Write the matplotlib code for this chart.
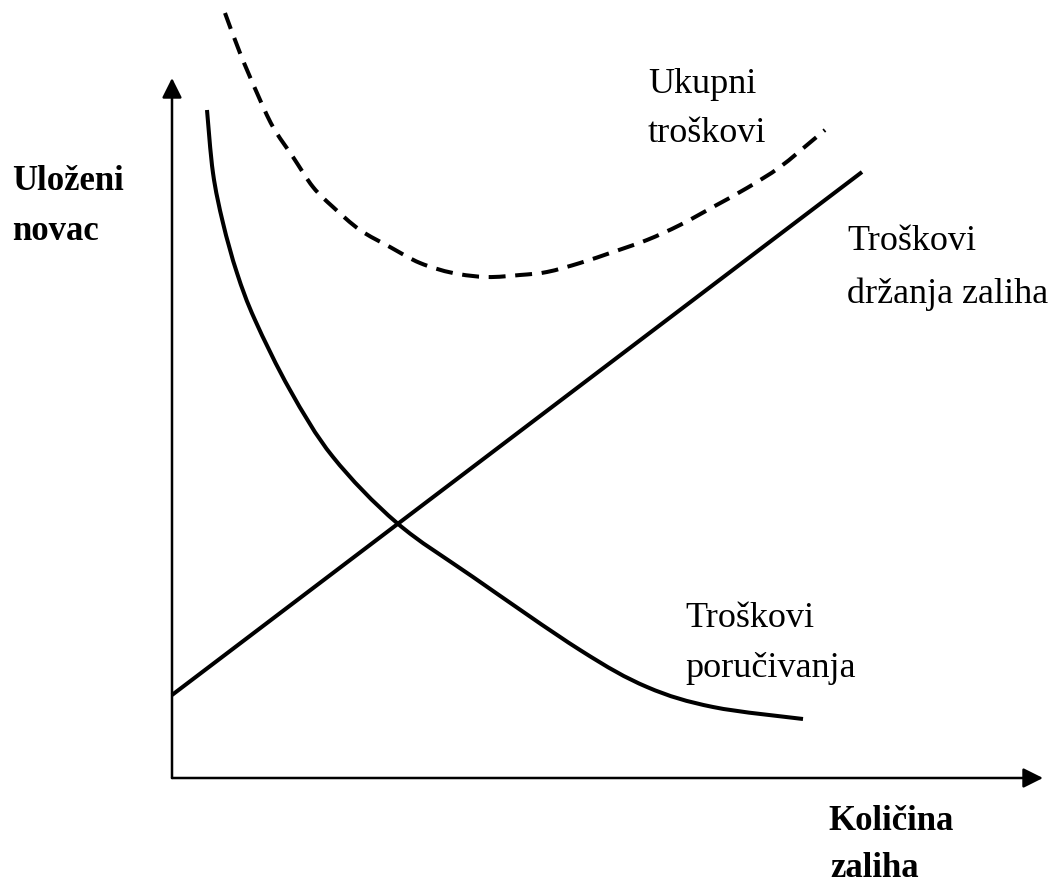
import matplotlib
matplotlib.use("Agg")
import matplotlib.pyplot as plt
from matplotlib.path import Path
from matplotlib.patches import PathPatch

# Quantity of stock (x) and money invested (y), arbitrary units
holding_x = [0.0, 6.90]
holding_y = [0.83, 6.06]

ordering_x = [0.35, 0.41, 0.51, 0.65, 0.83, 1.18, 1.61, 2.25, 3.01, 4.08, 4.75, 5.41, 6.31]
ordering_y = [6.68, 6.05, 5.55, 5.05, 4.58, 3.88, 3.21, 2.55, 2.01, 1.28, 0.91, 0.71, 0.59]

total_x = [0.53, 0.68, 0.85, 1.01, 1.21, 1.41, 1.61, 1.88, 2.18, 2.48, 2.81, 3.15, 3.48,
           3.75, 4.08, 4.41, 4.75, 5.08, 5.41, 5.75, 6.08, 6.41, 6.53]
total_y = [7.65, 7.25, 6.85, 6.51, 6.21, 5.91, 5.71, 5.48, 5.31, 5.15, 5.05, 5.01, 5.03,
           5.06, 5.15, 5.26, 5.38, 5.53, 5.71, 5.90, 6.11, 6.38, 6.48]

x_max, y_max = 8.68, 6.98

W, H = 1051, 885
fig = plt.figure(figsize=(W / 100, H / 100), dpi=100)
fig.patch.set_facecolor("white")
ax = fig.add_axes([172 / W, (H - 778) / H, (1040 - 172) / W, (778 - 80) / H])
ax.set_xlim(0, x_max)
ax.set_ylim(0, y_max)
ax.axis("off")


def smooth_path(xs, ys):
    """Cubic Bezier path passing through every point (Catmull-Rom tangents)."""
    pts = list(zip(xs, ys))
    verts = [pts[0]]
    codes = [Path.MOVETO]
    n = len(pts)
    for i in range(n - 1):
        p0 = pts[i - 1] if i > 0 else pts[i]
        p1 = pts[i]
        p2 = pts[i + 1]
        p3 = pts[i + 2] if i + 2 < n else pts[i + 1]
        c1 = (p1[0] + (p2[0] - p0[0]) / 6, p1[1] + (p2[1] - p0[1]) / 6)
        c2 = (p2[0] - (p3[0] - p1[0]) / 6, p2[1] - (p3[1] - p1[1]) / 6)
        verts += [c1, c2, p2]
        codes += [Path.CURVE4] * 3
    return Path(verts, codes)


# Axes with arrow heads
arrow = dict(arrowstyle="-|>", lw=1.8, color="black", mutation_scale=30,
             shrinkA=0, shrinkB=0)
ax.annotate("", xy=(x_max + 0.03, 0), xytext=(0, 0), arrowprops=arrow, annotation_clip=False)
ax.annotate("", xy=(0, y_max + 0.02), xytext=(0, 0), arrowprops=arrow, annotation_clip=False)

lw = 2.9
ax.plot(holding_x, holding_y, color="black", lw=lw, solid_capstyle="butt", clip_on=False)
ax.add_patch(PathPatch(smooth_path(ordering_x, ordering_y), facecolor="none",
                       edgecolor="black", lw=lw, capstyle="butt", clip_on=False))
ax.add_patch(PathPatch(smooth_path(total_x, total_y), facecolor="none",
                       edgecolor="black", lw=lw, linestyle=(0, (4.2, 2.4)),
                       capstyle="butt", clip_on=False))

serif = ["Liberation Serif", "DejaVu Serif"]


def label(x_px, y_px, text, bold=False, size=26):
    fig.text(x_px / W, 1 - y_px / H, text, family=serif, fontsize=size,
             fontweight="bold" if bold else "normal", ha="left", va="baseline",
             color="black")


label(12, 190, "Uloženi", bold=True, size=25)
label(12, 240, "novac", bold=True, size=25)

label(648, 93, "Ukupni")
label(648, 142, "troškovi")

label(847, 250, "Troškovi")
label(847, 303, "držanja zaliha")

label(685, 627, "Troškovi")
label(685, 677, "poručivanja")

label(828, 830, "Količina", bold=True, size=25)
label(830, 877, "zaliha", bold=True, size=25)

fig.savefig("out.png", dpi=100, facecolor="white")
